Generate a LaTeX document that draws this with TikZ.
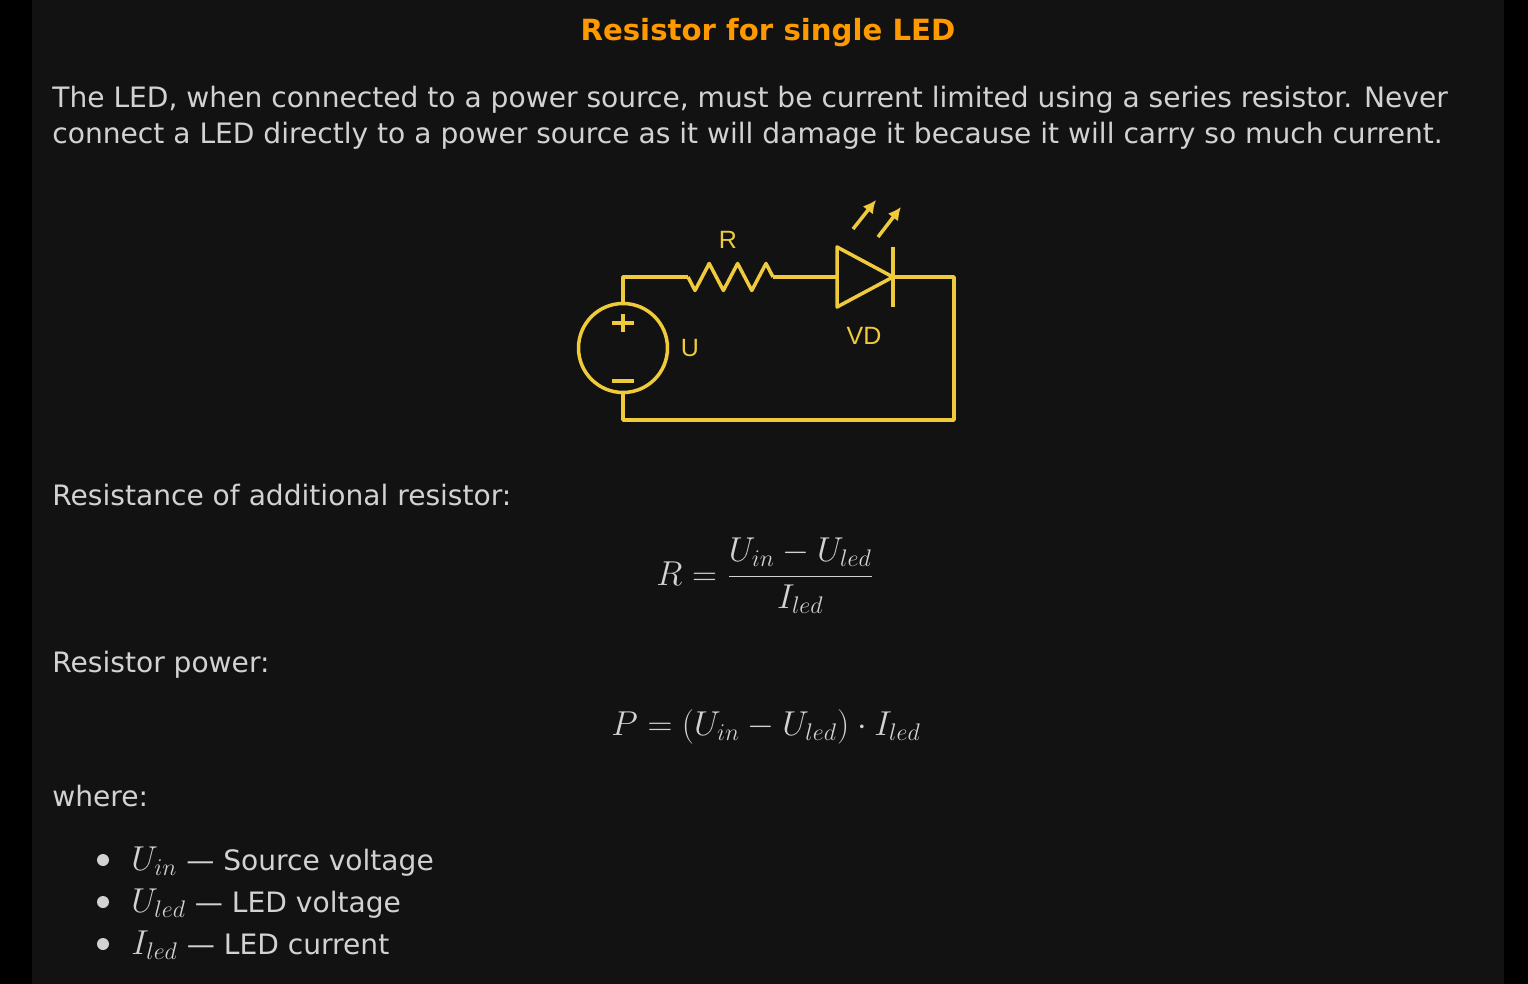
\documentclass[tikz,border=0pt]{standalone}
\usepackage[no-math]{fontspec}
\usepackage{amsmath}
\usepackage{tikz}
\usepackage{tkz-euclide}
\usepackage{xcolor}
\usetikzlibrary{arrows.meta}
\setmainfont{DejaVu Sans}
\newfontfamily\labelfont{Liberation Sans}
\definecolor{panel}{HTML}{121212}
\definecolor{textgray}{HTML}{D2D2D2}
\definecolor{titleorange}{HTML}{FF9900}
\definecolor{wirey}{HTML}{EFCB3C}
\newcommand{\itemmath}[1]{{\fontsize{16.5}{19}\selectfont$#1$}}
\tikzset{
	txt/.style={anchor=base west,inner sep=0pt,text=textgray,font=\fontsize{14.05}{17}\selectfont},
	frm/.style={anchor=base west,inner sep=0pt,text=textgray,font=\fontsize{16.6}{19}\selectfont},
	wire/.style={draw=wirey,line width=1.75pt,line join=round},
	src/.style={circle,draw=wirey,line width=1.75pt,minimum size=44.5pt,inner sep=0pt},
	lbl/.style={text=wirey,inner sep=0pt,font=\labelfont\fontsize{12.5}{14}\selectfont},
	dot/.style={circle,fill=textgray,inner sep=0pt,minimum size=6pt},
}

\begin{document}
\begin{tikzpicture}[x=0.5pt,y=-0.5pt]
	\fill[black] (0,0) rectangle (1528,984);
	\fill[panel] (32,0) rectangle (1504,984);
	\useasboundingbox (0,0) rectangle (1528,984);
	\node[txt,anchor=base,text=titleorange,font=\bfseries\fontsize{14.6}{17}\selectfont] (title) at (768,41) {Resistor for single LED};
	\node[txt] (intro1) at (52,108) {The LED, when connected to a power source, must be current limited using a series resistor. Never};
	\node[txt] (intro2) at (52,144) {connect a LED directly to a power source as it will damage it because it will carry so much current.};
	\tkzDefPoints{623/277/tl,954/277/tr,954/420/br,623/420/bl,688/277/ra,773/277/rb,837/277/da,893/277/dk,853/229/ea,876/200/eb,878/237/fa,901/207/fb}
	\node[src] (src) at (623,348) {};
	\draw[wire] (src.north) -- (tl) -- (ra);
	\draw[wire] (ra) -- ++(7,13.5) -- ++(14.2,-27) -- ++(14.2,27) -- ++(14.2,-27) -- ++(14.2,27) -- ++(14.2,-27) -- (rb);
	\draw[wire] (rb) -- (da);
	\draw[wire] (da) ++(0,-30) -- ++(0,60) -- (dk) -- cycle;
	\draw[wire] (dk) ++(0,-30) -- ++(0,60);
	\draw[wire] (dk) -- (tr) -- (br) -- (bl) -- (src.south);
	\draw[wire] (src) ++(-11,-25) -- ++(22,0) (src) ++(0,-34) -- ++(0,18);
	\draw[wire] (src) ++(-11,33) -- ++(22,0);
	\draw[wire,-{Latex[length=6.5pt,width=6.5pt]}] (ea) -- (eb);
	\draw[wire,-{Latex[length=6.5pt,width=6.5pt]}] (fa) -- (fb);
	\node[lbl] (rlbl) at (728,240) {R};
	\node[lbl] (ulbl) at (690,348) {U};
	\node[lbl] (vdlbl) at (864,336) {VD};
	\node[txt] (rtext) at (52,506) {Resistance of additional resistor:};
	\node[frm] (rform) at (656,585) {$\displaystyle R=\frac{U_{in}-U_{led}}{I_{led}}$};
	\node[txt] (ptext) at (52,672) {Resistor power:};
	\node[frm] (pform) at (611,735) {$P=(U_{in}-U_{led})\cdot I_{led}$};
	\node[txt] (where) at (52,806) {where:};
	\node[dot] (b1) at (103,860) {};
	\node[dot] (b2) at (103,902) {};
	\node[dot] (b3) at (103,944) {};
	\node[txt] (item1) at (131,870) {\itemmath{U_{in}} — Source voltage};
	\node[txt] (item2) at (131,912) {\itemmath{U_{led}} — LED voltage};
	\node[txt] (item3) at (131,954) {\itemmath{I_{led}} — LED current};
\end{tikzpicture}
\end{document}
